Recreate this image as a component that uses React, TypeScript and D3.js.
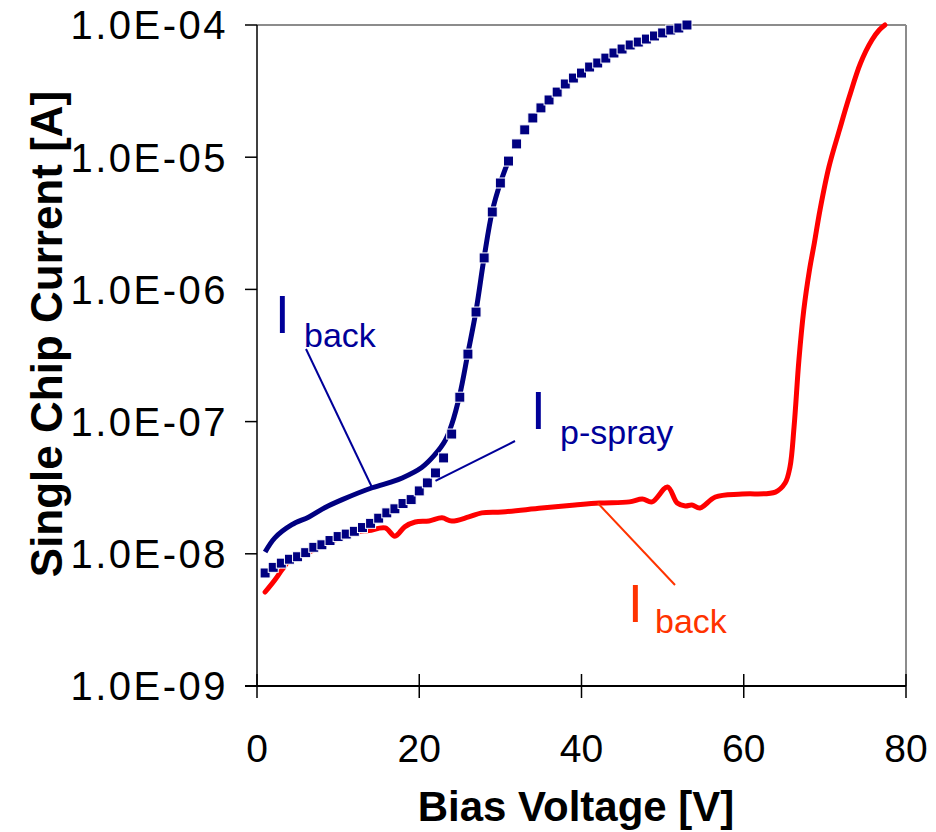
import { useEffect, useRef } from "react";
import * as d3 from "d3";

// p-spray current (square markers), one point per volt
const SPRAY_V = d3.range(1, 54);
const SPRAY_I = [
  7.16e-9, 7.9e-9, 8.5e-9, 9.1e-9, 9.5e-9, 1.02e-8, 1.12e-8, 1.17e-8, 1.26e-8, 1.35e-8,
  1.41e-8, 1.48e-8, 1.58e-8, 1.7e-8, 1.86e-8, 2.04e-8, 2.19e-8, 2.4e-8, 2.57e-8, 2.99e-8,
  3.44e-8, 4.09e-8, 5.31e-8, 8.05e-8, 1.53e-7, 3.24e-7, 6.74e-7, 1.73e-6, 3.85e-6, 6.38e-6,
  9.35e-6, 1.26e-5, 1.61e-5, 1.98e-5, 2.36e-5, 2.71e-5, 3.11e-5, 3.58e-5, 3.97e-5, 4.33e-5,
  4.81e-5, 5.16e-5, 5.62e-5, 6.14e-5, 6.58e-5, 7.06e-5, 7.43e-5, 7.83e-5, 8.26e-5, 8.71e-5,
  9.16e-5, 9.49e-5, 1.0e-4,
];

// blue back-side current (solid line)
const BACK1_V = [1.0, 2.2, 4.3, 6.4, 8.4, 10.5, 14.2, 16.6, 17.9, 20.3, 21.9, 23.2, 24, 25, 26, 27, 28, 29, 30, 31];
const BACK1_I = [
  1.03e-8, 1.32e-8, 1.66e-8, 1.9e-8, 2.24e-8, 2.57e-8, 3.16e-8, 3.5e-8, 3.75e-8, 4.5e-8,
  5.6e-8, 7.2e-8, 9.5e-8, 1.6e-7, 3.3e-7, 6.9e-7, 1.75e-6, 3.9e-6, 6.4e-6, 9.4e-6,
];

// red back-side current (second chip)
const BACK2_V = [
  1.0, 2.2, 3.1, 4, 6, 8, 10, 12, 12.6, 13.8, 15.8, 17.0, 18.2, 19.5, 21.2, 22.8, 24.0, 26.1,
  27.7, 30.2, 35.1, 39.2, 42.2, 45.9, 47.5, 48.7, 50.6, 51.8, 52.8, 53.6, 54.6, 56.5, 59.8,
  63.9, 65.1, 65.7, 66.2, 66.8, 67.4, 68.1, 68.7, 69.4, 70.5, 71.8, 73.0, 74.4, 75.8, 76.7, 77.4,
];
const BACK2_I = [
  5.14e-9, 6.34e-9, 7.6e-9, 8.9e-9, 1.0e-8, 1.15e-8, 1.3e-8, 1.44e-8, 1.48e-8, 1.5e-8,
  1.57e-8, 1.36e-8, 1.6e-8, 1.74e-8, 1.77e-8, 1.87e-8, 1.77e-8, 1.9e-8, 2.04e-8, 2.07e-8,
  2.22e-8, 2.34e-8, 2.42e-8, 2.47e-8, 2.6e-8, 2.47e-8, 3.2e-8, 2.42e-8, 2.3e-8, 2.34e-8,
  2.22e-8, 2.69e-8, 2.83e-8, 2.93e-8, 3.43e-8, 4.54e-8, 9.1e-8, 2.92e-7, 6.98e-7, 1.4e-6,
  2.24e-6, 3.99e-6, 8.44e-6, 1.61e-5, 2.85e-5, 5.16e-5, 7.7e-5, 9.16e-5, 1.0e-4,
];

const X_TICKS = [0, 20, 40, 60, 80];
const Y_TICKS = [1e-9, 1e-8, 1e-7, 1e-6, 1e-5, 1e-4];
const Y_LABELS = ["1.0E-09", "1.0E-08", "1.0E-07", "1.0E-06", "1.0E-05", "1.0E-04"];

const W = 936;
const H = 832;
const NAVY = "#000080";
const LABEL_BLUE = "#000099";
const RED = "#ff0000";
const LABEL_RED = "#ff3300";
const FONT = "Arial, 'Liberation Sans', sans-serif";

export default function App() {
  const ref = useRef<SVGSVGElement | null>(null);

  useEffect(() => {
    if (!ref.current) return;
    const svg = d3.select(ref.current);
    svg.selectAll("*").remove();

    const x = d3.scaleLinear().domain([0, 80]).range([257, 906]);
    const y = d3.scaleLog().domain([1e-9, 1e-4]).range([686, 25]);
    const [x0, x1] = x.range();
    const [y0, y1] = y.range();

    // frame: gray top/right, black left/bottom
    svg.append("line").attr("x1", x0).attr("x2", x1).attr("y1", y1).attr("y2", y1)
      .attr("stroke", "#8c8c8c").attr("stroke-width", 2);
    svg.append("line").attr("x1", x1).attr("x2", x1).attr("y1", y1).attr("y2", y0)
      .attr("stroke", "#8c8c8c").attr("stroke-width", 2);

    const line = d3.line<[number, number]>()
      .x((d) => x(d[0]))
      .y((d) => y(d[1]))
      .curve(d3.curveCatmullRom.alpha(0.5));

    // red curve
    svg.append("path")
      .attr("d", line(BACK2_V.map((v, i) => [v, BACK2_I[i]] as [number, number])))
      .attr("fill", "none").attr("stroke", RED).attr("stroke-width", 5)
      .attr("stroke-linejoin", "round").attr("stroke-linecap", "round");

    // blue solid curve
    svg.append("path")
      .attr("d", line(BACK1_V.map((v, i) => [v, BACK1_I[i]] as [number, number])))
      .attr("fill", "none").attr("stroke", NAVY).attr("stroke-width", 5)
      .attr("stroke-linejoin", "round");

    // square markers
    const sq = 10;
    svg.append("g").selectAll("rect")
      .data(SPRAY_V.map((v, i) => [v, SPRAY_I[i]]))
      .join("rect")
      .attr("x", (d) => x(d[0]) - sq / 2)
      .attr("y", (d) => y(d[1]) - sq / 2)
      .attr("width", sq).attr("height", sq)
      .attr("fill", NAVY).attr("stroke", "#ffffff").attr("stroke-width", 1);

    // axes
    svg.append("line").attr("x1", x0).attr("x2", x0).attr("y1", y1).attr("y2", y0)
      .attr("stroke", "#000").attr("stroke-width", 1.5);
    svg.append("line").attr("x1", x0 - 12).attr("x2", x1).attr("y1", y0).attr("y2", y0)
      .attr("stroke", "#000").attr("stroke-width", 2);

    const yt = svg.append("g");
    Y_TICKS.forEach((t, i) => {
      yt.append("line").attr("x1", x0 - 12).attr("x2", x0).attr("y1", y(t)).attr("y2", y(t))
        .attr("stroke", "#000").attr("stroke-width", 1.5);
      yt.append("text").attr("x", 228).attr("y", y(t)).attr("dy", "0.36em")
        .attr("text-anchor", "end").attr("font-family", FONT).attr("font-size", 40)
        .attr("letter-spacing", 2.5).attr("fill", "#000").text(Y_LABELS[i]);
    });

    const xt = svg.append("g");
    X_TICKS.forEach((t) => {
      xt.append("line").attr("x1", x(t)).attr("x2", x(t)).attr("y1", y0 - 12).attr("y2", y0 + 12)
        .attr("stroke", "#000").attr("stroke-width", 1.5);
      xt.append("text").attr("x", x(t)).attr("y", 762)
        .attr("text-anchor", "middle").attr("font-family", FONT).attr("font-size", 39)
        .attr("fill", "#000").text(String(t));
    });

    svg.append("text").attr("x", 576).attr("y", 821).attr("text-anchor", "middle")
      .attr("font-family", FONT).attr("font-size", 42).attr("font-weight", "bold")
      .text("Bias Voltage [V]");
    svg.append("text").attr("transform", "translate(62,334) rotate(-90)")
      .attr("text-anchor", "middle").attr("font-family", FONT).attr("font-size", 44)
      .attr("font-weight", "bold").text("Single Chip Current [A]");

    // annotations
    const note = (ix: number, iy: number, sx: number, sy: number, sub: string, color: string) => {
      svg.append("text").attr("x", ix).attr("y", iy).attr("font-family", FONT)
        .attr("font-size", 53).attr("fill", color).text("I");
      svg.append("text").attr("x", sx).attr("y", sy).attr("font-family", FONT)
        .attr("font-size", 34).attr("fill", color).text(sub);
    };
    const leader = (ax: number, ay: number, bx: number, by: number, color: string) => {
      svg.append("line").attr("x1", ax).attr("y1", ay).attr("x2", bx).attr("y2", by)
        .attr("stroke", color).attr("stroke-width", 2);
    };

    note(275, 333, 304, 347, "back", LABEL_BLUE);
    leader(306, 349, x(14.2), y(3.16e-8), LABEL_BLUE);

    note(531, 429, 560, 444, "p-spray", LABEL_BLUE);
    leader(515, 441, x(22), y(4.09e-8) + 8, LABEL_BLUE);

    note(628, 622, 655, 633, "back", LABEL_RED);
    leader(675, 585, x(42), y(2.42e-8), LABEL_RED);
  }, []);

  return (
    <svg
      ref={ref}
      width={W}
      height={H}
      viewBox={`0 0 ${W} ${H}`}
      style={{ position: "absolute", left: 0, top: 0, background: "#fff" }}
    />
  );
}
